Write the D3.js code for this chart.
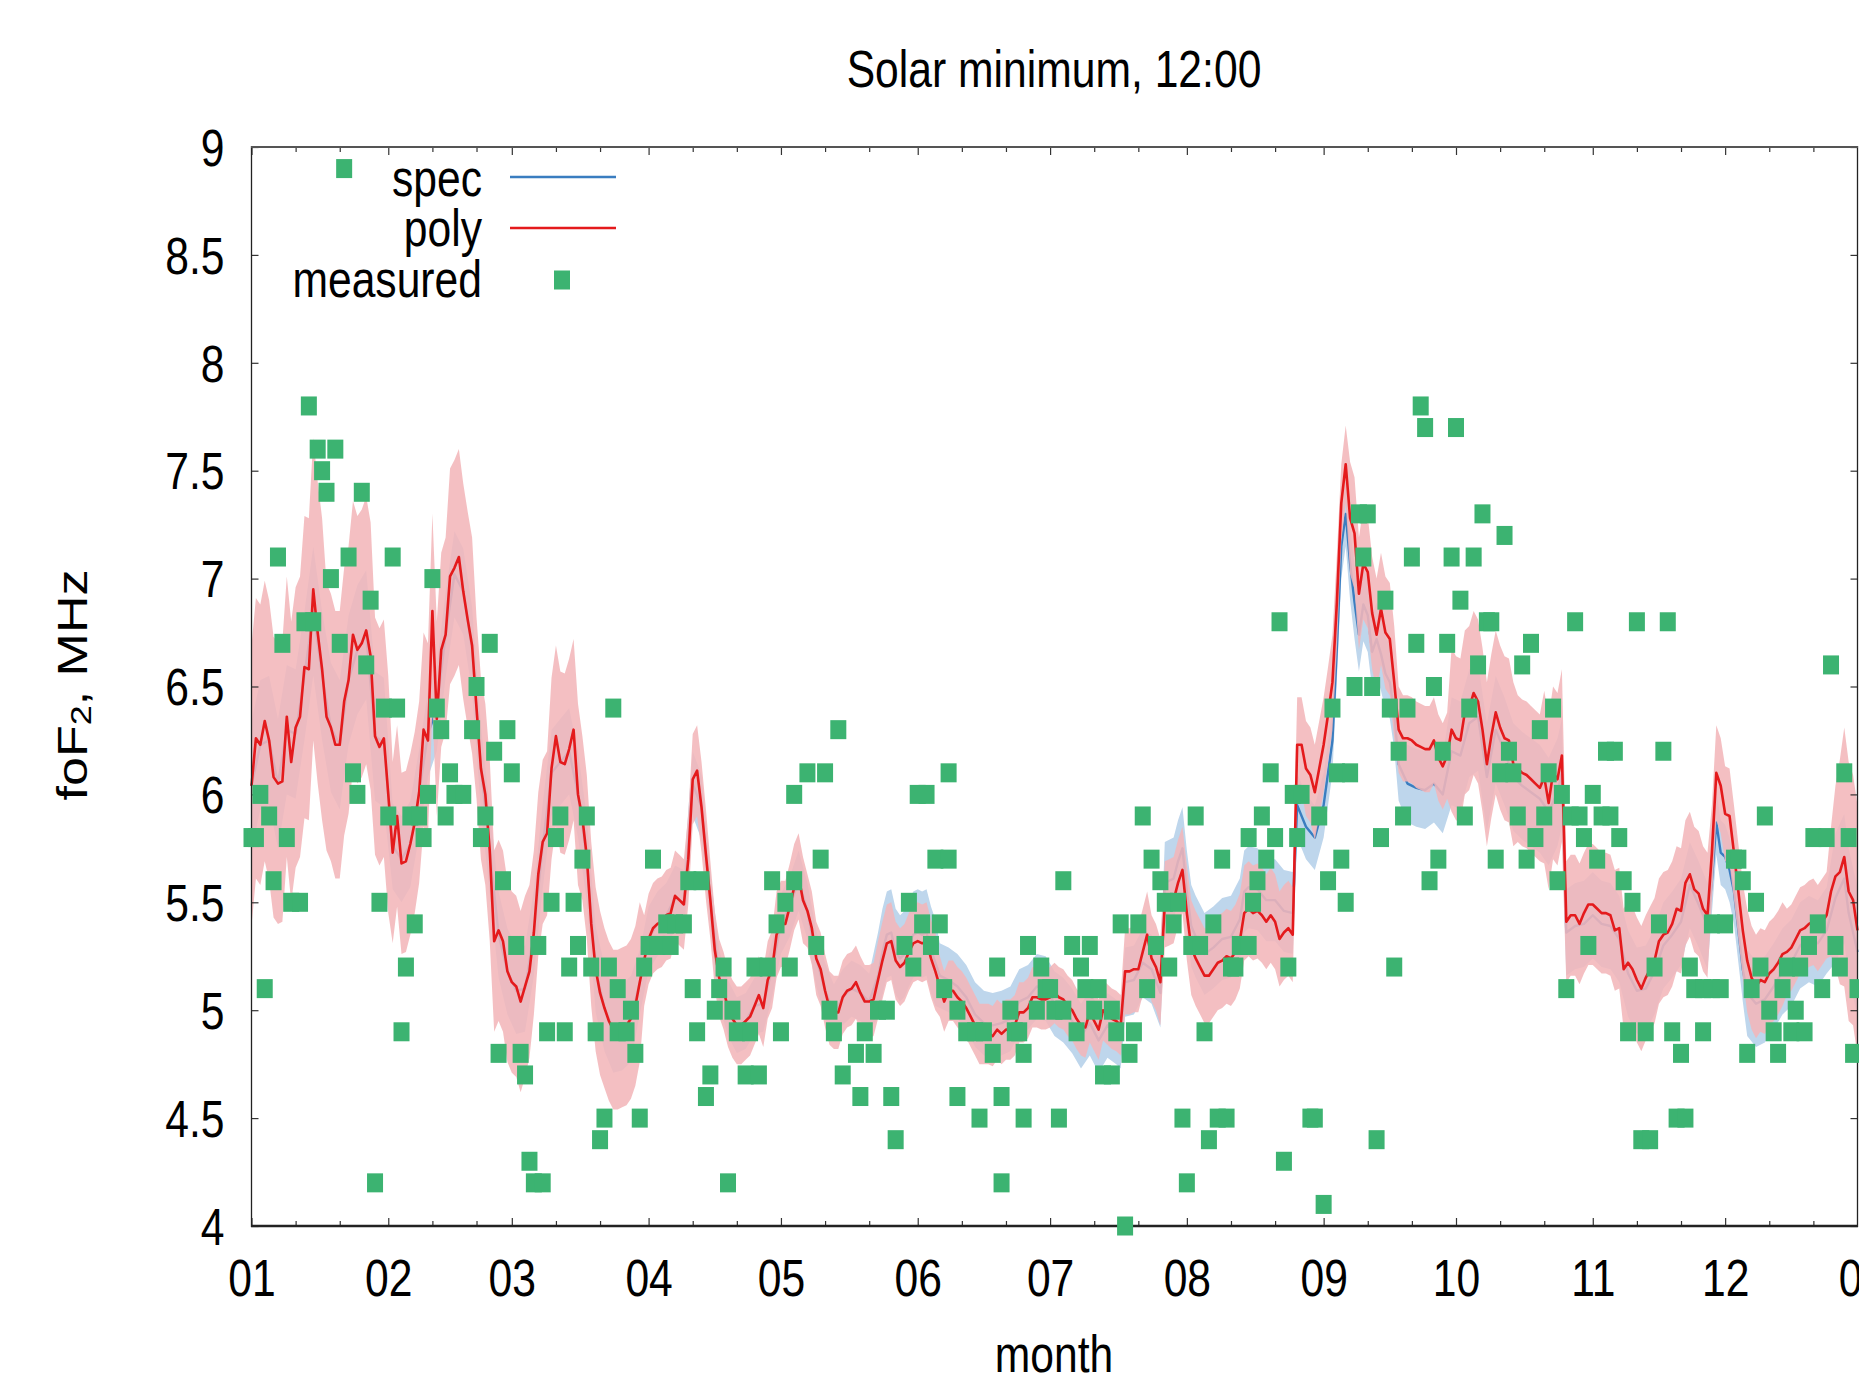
<!DOCTYPE html>
<html><head><meta charset="utf-8">
<script src="https://cdn.jsdelivr.net/npm/d3@7"></script>
<style>html,body{margin:0;padding:0;background:#fff;overflow:hidden}svg{display:block}</style>
</head><body>
<svg id="chart" width="1859" height="1377"></svg>
<script>
// ---------------- data ----------------
const titleText = "Solar minimum, 12:00";
const xAxisLabel = "month";
const yTickValues = [4, 4.5, 5, 5.5, 6, 6.5, 7, 7.5, 8, 8.5, 9];
const legendLabels = ["spec", "poly", "measured"];
const yearStart = Date.UTC(2009, 0, 1);

// measured foF2 [day of year (0 = 1 Jan), MHz]
const measured = [
[0,5.8],[1,5.8],[2,6.0],[3,5.1],[4,5.9],[5,5.6],[6,7.1],[7,6.7],[8,5.8],[9,5.5],[11,5.5],[12,6.8],[13,7.8],[14,6.8],[15,7.6],[16,7.5],[17,7.4],[18,7.0],[19,7.6],[20,6.7],[21,8.9],[22,7.1],[23,6.1],[24,6.0],[25,7.4],[26,6.6],[27,6.9],[28,4.2],[29,5.5],[30,6.4],[31,5.9],[32,7.1],[33,6.4],[34,4.9],[35,5.2],[36,5.9],[37,5.4],[38,5.9],[39,5.8],[40,6.0],[41,7.0],[42,6.4],[43,6.3],[44,5.9],[45,6.1],[46,6.0],[48,6.0],[50,6.3],[51,6.5],[52,5.8],[53,5.9],[54,6.7],[55,6.2],[56,4.8],[57,5.6],[58,6.3],[59,6.1],[60,5.3],[61,4.8],[62,4.7],[63,4.3],[64,4.2],[66,4.2],
[65,5.3],[67,4.9],[68,5.5],[69,5.8],[70,5.9],[71,4.9],[72,5.2],[73,5.5],[74,5.3],[75,5.7],[76,5.9],[77,5.2],[78,4.9],[79,4.4],[80,4.5],[81,5.2],[82,6.4],[83,5.1],[83,4.9],[85,4.9],[86,5.0],[87,4.8],[88,4.5],[89,5.2],[90,5.3],[91,5.7],[92,5.3],[94,5.4],[95,5.3],[96,5.4],[98,5.4],[99,5.6],[100,5.1],[101,4.9],[102,5.6],[103,4.6],[104,4.7],[105,5.0],[106,5.1],[107,5.2],[108,4.2],[109,5.0],[110,4.9],[112,4.7],[113,4.9],[114,5.2],[115,4.7],[117,5.2],[118,5.6],[119,5.4],[120,4.9],[121,5.5],[122,5.2],[123,5.6],[123,6.0],
[126,6.1],[128,5.3],[129,5.7],[130,6.1],[131,5.0],[132,4.9],[133,6.3],[134,4.7],[137,4.8],[138,4.6],[139,4.9],[141,4.8],[142,5.0],[144,5.0],[145,4.6],[146,4.4],[148,5.3],[149,5.5],[150,5.2],[151,6.0],[152,5.4],[153,6.0],[154,5.3],[155,5.7],[156,5.4],[157,5.1],[158,6.1],[158,5.7],[160,4.6],[160,5.0],[162,4.9],[164,4.9],[165,4.5],[166,4.9],[168,4.8],[169,5.2],[170,4.2],[170,4.6],[172,5.0],[173,4.9],[174,4.9],[175,4.5],[175,4.8],[176,5.3],[178,5.0],[179,5.2],[180,5.1],[181,5.1],[182,5.0],[183,4.5],[184,5.0],[184,5.6],
[186,5.3],[187,4.9],[188,5.2],[189,5.1],[190,5.3],[191,5.0],[192,5.1],[193,4.7],[195,4.7],[195,5.0],[196,4.9],[197,5.4],[198,4.0],[199,4.8],[200,4.9],[201,5.4],[202,5.9],[203,5.1],[204,5.7],[205,5.3],[206,5.6],[207,5.5],[208,5.2],[209,5.4],[210,5.5],[211,4.5],[212,4.2],[213,5.3],[214,5.9],[215,5.3],[216,4.9],[217,4.4],[218,5.4],[219,4.5],[220,5.7],[221,4.5],[222,5.2],[223,5.2],[224,5.3],[226,5.3],[226,5.8],[227,5.5],[228,5.6],[229,5.9],[230,5.7],[231,6.1],[232,5.8],[233,6.8],[234,4.3],[235,5.2],[236,6.0],[237,5.8],[238,6.0],[240,4.5],[241,4.5],[242,5.9],[243,4.1],[244,5.6],[245,6.4],
[246,6.1],[247,5.7],[248,5.5],[249,6.1],[250,6.5],[251,7.3],[252,7.1],[253,7.3],[254,6.5],[255,4.4],[256,5.8],[257,6.9],[258,6.4],[259,5.2],[260,6.2],[261,5.9],[262,6.4],[263,7.1],[264,6.7],[265,7.8],[266,7.7],[267,5.6],[268,6.5],[269,5.7],[270,6.2],[271,6.7],[272,7.1],[273,7.7],[274,6.9],[275,5.9],[276,6.4],[277,7.1],[278,6.6],[279,7.3],[280,6.8],[281,6.8],[282,5.7],[283,6.1],[284,7.2],[285,6.2],[286,6.1],[287,5.9],[288,6.6],[289,5.7],[290,6.7],[291,5.8],[292,6.3],[293,5.9],[294,6.1],[295,6.4],[296,5.6],[297,6.0],[298,5.1],[299,5.9],[300,6.8],[301,5.9],[302,5.8],[303,5.3],[304,6.0],[305,5.7],[306,5.9],
[307,6.2],[308,5.9],[309,6.2],[310,5.8],[311,5.6],[312,4.9],[313,5.5],[314,6.8],[315,4.4],[316,4.9],[317,4.4],[318,5.2],[319,5.4],[320,6.2],[321,6.8],[322,4.9],[323,4.5],[324,4.8],[325,4.5],[326,5.2],[327,5.1],[329,5.1],[329,4.9],[331,5.1],[331,5.4],[333,5.1],[334,5.4],[336,5.7],[337,5.7],[338,5.6],[339,4.8],[340,5.1],[341,5.5],[342,5.2],[343,5.9],[344,5.0],[345,4.9],[346,4.8],[347,5.1],[348,5.2],[349,4.9],[350,5.0],[351,5.2],[352,4.9],[353,5.3],[354,5.8],[355,5.4],[356,5.1],[357,5.8],[358,6.6],[359,5.3],[360,5.2],[361,6.1],[362,5.8],[363,4.8],[364,5.1]
];

// poly model [day, MHz, half-width of band]
const poly = [
[0,6.04,.65],[1,6.26,.65],[2,6.23,.65],[3,6.34,.65],[4,6.25,.65],[5,6.08,.65],[6,6.05,.65],[7,6.06,.65],[8,6.36,.65],[9,6.15,.65],[10,6.31,.65],[11,6.36,.65],
[12,6.59,.70],[13,6.58,.70],[14,6.95,.70],[15,6.75,.70],[16,6.58,.70],[17,6.36,.62],[18,6.31,.62],[19,6.23,.62],[20,6.23,.62],[21,6.43,.62],[22,6.53,.62],[23,6.74,.62],[24,6.67,.62],[25,6.70,.62],[26,6.76,.62],[27,6.64,.62],
[28,6.27,.55],[29,6.22,.55],[30,6.26,.55],[31,6.00,.55],[32,5.73,.42],[33,5.90,.42],[34,5.68,.42],[35,5.69,.42],[36,5.77,.42],[37,5.87,.42],[38,6.01,.42],
[39,6.30,.45],[40,6.25,.45],[41,6.85,.45],[42,6.35,.45],[43,6.67,.45],[44,6.74,.45],[45,7.01,.50],[46,7.05,.50],[47,7.10,.50],[48,6.94,.50],[49,6.81,.50],[50,6.69,.50],
[51,6.40,.42],[52,6.12,.42],[53,6.00,.42],[54,5.74,.42],[55,5.32,.42],[56,5.37,.42],[57,5.32,.42],[58,5.18,.42],[59,5.13,.42],[60,5.11,.42],[61,5.04,.42],[62,5.11,.42],[63,5.18,.40],
[64,5.36,.38],[65,5.63,.38],[66,5.78,.38],[67,5.82,.38],[68,6.12,.42],[69,6.27,.42],[70,6.15,.42],[71,6.14,.42],[72,6.21,.42],[73,6.30,.42],[74,6.00,.42],
[75,5.89,.38],[76,5.71,.38],[77,5.40,.38],[78,5.19,.38],[79,5.08,.38],[80,5.01,.37],[81,4.95,.37],[82,4.91,.37],[83,4.91,.37],[84,4.92,.37],[85,4.93,.37],[86,4.96,.37],[87,5.02,.37],[88,5.13,.37],
[89,5.23,.21],[90,5.33,.21],[91,5.38,.21],[92,5.40,.21],[93,5.41,.21],[94,5.44,.21],[95,5.45,.21],[96,5.53,.21],[97,5.51,.21],[98,5.49,.21],[99,5.70,.21],[100,6.07,.21],[101,6.11,.21],[102,5.94,.21],[103,5.72,.21],
[104,5.51,.18],[105,5.28,.18],[106,5.15,.18],[107,5.09,.18],[108,5.01,.18],[109,4.96,.18],[110,4.93,.18],[111,4.93,.18],[112,4.95,.18],[113,4.97,.18],[114,5.02,.18],[115,5.07,.18],[116,5.01,.18],[117,5.14,.18],[118,5.19,.18],
[119,5.35,.20],[120,5.40,.20],[121,5.40,.20],[122,5.48,.20],[123,5.57,.20],[124,5.62,.20],[125,5.51,.20],
[126,5.46,.17],[127,5.38,.17],[128,5.24,.17],[129,5.19,.17],[130,5.09,.17],[131,5.01,.17],[132,4.99,.17],[133,4.99,.17],[134,5.06,.17],[135,5.09,.17],[136,5.10,.17],[137,5.13,.17],[138,5.08,.17],[139,5.04,.17],[140,5.04,.17],[141,5.05,.17],
[142,5.14,.18],[143,5.23,.18],[144,5.31,.18],[145,5.32,.18],[146,5.23,.18],[147,5.20,.18],[148,5.22,.18],[149,5.27,.18],[150,5.31,.18],[151,5.32,.18],[152,5.31,.18],[153,5.32,.18],[154,5.24,.18],[155,5.18,.18],
[156,5.11,.14],[157,5.04,.14],[158,5.09,.14],[159,5.09,.14],[160,5.06,.14],[161,5.04,.14],[162,5.01,.14],[163,4.97,.14],[164,4.93,.14],[165,4.89,.14],[166,4.89,.14],[167,4.89,.14],[168,4.88,.14],[169,4.91,.14],[170,4.89,.14],[171,4.91,.14],[172,4.91,.14],[173,4.93,.14],[174,4.99,.14],[175,4.99,.14],[176,5.01,.14],[177,5.06,.14],[178,5.06,.14],[179,5.05,.14],[180,5.05,.14],[181,5.06,.14],
[182,5.08,.14],[183,5.06,.14],[184,5.05,.14],[185,5.02,.14],[186,5.00,.14],[187,4.96,.14],[188,4.93,.14],[189,4.92,.14],[190,4.99,.14],[191,4.95,.14],[192,4.91,.14],[193,5.00,.14],[194,4.98,.14],[195,4.96,.14],[196,4.95,.14],[197,4.93,.14],
[198,5.18,.20],[199,5.18,.20],[200,5.19,.20],[201,5.19,.20],[202,5.27,.20],[203,5.35,.20],[204,5.24,.20],[205,5.20,.20],[206,5.13,.20],[207,5.49,.20],[208,5.50,.20],[209,5.51,.20],[210,5.59,.20],[211,5.65,.20],
[212,5.45,.22],[213,5.29,.22],[214,5.24,.22],[215,5.20,.22],[216,5.16,.22],[217,5.16,.22],[218,5.19,.22],[219,5.22,.22],[220,5.23,.22],[221,5.25,.22],[222,5.24,.22],[223,5.27,.22],[224,5.32,.22],[225,5.45,.22],[226,5.47,.22],[227,5.45,.22],[228,5.46,.22],[229,5.44,.22],[230,5.41,.22],[231,5.44,.22],[232,5.41,.22],[233,5.33,.22],[234,5.36,.22],[235,5.38,.22],[236,5.35,.22],
[237,6.23,.22],[238,6.23,.22],[239,6.12,.22],[240,6.09,.22],[241,6.01,.22],[242,6.12,.22],[243,6.23,.22],[244,6.37,.22],[245,6.52,.22],[246,6.89,.22],[247,7.35,.18],[248,7.53,.18],
[249,7.28,.26],[250,7.21,.26],[251,6.93,.26],[252,7.07,.26],[253,7.03,.26],[254,6.84,.26],[255,6.74,.26],[256,6.86,.26],[257,6.75,.26],[258,6.72,.26],[259,6.52,.26],
[260,6.30,.20],[261,6.26,.20],[262,6.26,.20],[263,6.25,.20],[264,6.23,.20],[265,6.22,.20],[266,6.21,.20],[267,6.21,.20],[268,6.25,.20],[269,6.17,.20],[270,6.13,.20],[271,6.18,.20],
[272,6.30,.38],[273,6.26,.38],[274,6.25,.38],[275,6.38,.38],[276,6.40,.38],[277,6.47,.38],[278,6.43,.38],[279,6.30,.38],[280,6.14,.38],[281,6.27,.38],[282,6.38,.38],[283,6.31,.38],[284,6.26,.38],[285,6.25,.38],[286,6.14,.38],
[287,6.12,.34],[288,6.10,.34],[289,6.09,.34],[290,6.07,.34],[291,6.05,.34],[292,6.03,.34],[293,6.08,.40],[294,5.96,.40],[295,6.10,.40],[296,6.07,.40],[297,6.18,.40],
[298,5.41,.28],[299,5.44,.28],[300,5.44,.28],[301,5.40,.28],[302,5.45,.28],[303,5.49,.28],[304,5.49,.28],[305,5.47,.28],[306,5.45,.28],[307,5.45,.28],[308,5.44,.28],[309,5.37,.28],[310,5.38,.28],[311,5.19,.28],
[312,5.22,.29],[313,5.19,.29],[314,5.14,.29],[315,5.10,.29],[316,5.15,.29],[317,5.19,.29],[318,5.23,.29],[319,5.32,.29],[320,5.35,.29],[321,5.36,.29],[322,5.40,.29],[323,5.47,.29],[324,5.46,.29],[325,5.59,.29],[326,5.63,.29],[327,5.56,.29],[328,5.54,.29],[329,5.47,.29],[330,5.44,.29],
[331,5.73,.22],[332,6.10,.22],[333,6.04,.22],[334,5.91,.22],[335,5.90,.22],[336,5.73,.22],[337,5.55,.22],[338,5.37,.22],
[339,5.23,.24],[340,5.15,.24],[341,5.11,.24],[342,5.14,.24],[343,5.13,.24],[344,5.17,.24],[345,5.19,.24],[346,5.22,.24],[347,5.26,.24],
[348,5.27,.20],[349,5.29,.20],[350,5.33,.20],[351,5.37,.20],[352,5.38,.20],[353,5.40,.20],[354,5.41,.20],[355,5.38,.20],[356,5.41,.20],[357,5.44,.20],
[358,5.55,.30],[359,5.62,.42],[360,5.64,.52],[361,5.71,.60],[362,5.55,.60],[363,5.51,.58],[364,5.37,.58]
];

// spec model [day, MHz, half-width of band]
const spec = [
[0,6.04,.3],[2,6.23,.3],[4,6.25,.3],[6,6.05,.3],[8,6.30,.3],[10,6.28,.3],[12,6.55,.3],[14,6.85,.3],[16,6.55,.3],[18,6.31,.3],[20,6.23,.3],[22,6.53,.3],[24,6.67,.3],[26,6.74,.3],[28,6.27,.3],[30,6.24,.3],
[32,5.76,.2],[34,5.70,.2],[36,5.77,.2],[38,6.01,.2],[40,6.28,.2],[42,6.40,.2],[44,6.74,.2],[46,7.02,.2],[48,6.94,.2],[50,6.67,.2],[52,6.12,.2],[54,5.74,.2],[56,5.35,.2],[58,5.18,.2],[60,5.09,.2],[62,5.10,.2],
[64,5.36,.2],[66,5.76,.2],[68,6.10,.2],[70,6.15,.2],[72,6.20,.2],[74,6.00,.2],[76,5.70,.2],[78,5.19,.2],[80,5.01,.2],[82,4.91,.2],[84,4.92,.2],[86,4.96,.2],
[88,5.13,.15],[90,5.33,.15],[92,5.40,.15],[94,5.44,.15],[96,5.52,.15],[98,5.50,.15],[100,6.05,.15],[102,5.94,.15],
[104,5.51,.13],[106,5.15,.13],[108,5.01,.13],[110,4.93,.13],[112,4.95,.13],[114,5.02,.13],[116,5.03,.13],[118,5.19,.13],[120,5.40,.14],[122,5.48,.14],[124,5.60,.14],
[126,5.46,.13],[128,5.24,.13],[130,5.09,.13],[132,4.99,.13],[134,5.06,.13],[136,5.10,.13],[138,5.08,.13],[140,5.04,.13],
[142,5.16,.2],[143,5.27,.2],[144,5.35,.2],[145,5.36,.2],[146,5.27,.2],[147,5.24,.2],[148,5.26,.2],[149,5.31,.2],[150,5.35,.2],[151,5.36,.2],[152,5.35,.2],[153,5.36,.2],[154,5.28,.2],[155,5.22,.2],
[156,5.16,.15],[158,5.14,.15],[160,5.11,.15],[162,5.06,.15],[164,4.98,.15],[166,4.94,.15],[168,4.93,.15],[170,4.94,.15],[172,4.96,.15],[174,5.04,.15],[176,5.06,.15],[178,5.11,.15],[180,5.10,.15],
[182,5.03,.15],[184,5.00,.15],[186,4.95,.15],[188,4.88,.15],[190,4.94,.15],[192,4.86,.15],[194,4.93,.15],[196,4.90,.15],[197,4.88,.15],
[198,5.13,.16],[200,5.14,.16],[202,5.22,.16],[204,5.19,.16],[206,5.08,.16],
[207,5.59,.19],[208,5.60,.19],[209,5.61,.19],[210,5.69,.19],[211,5.75,.19],[212,5.55,.19],[213,5.39,.19],[214,5.34,.19],[216,5.26,.19],[218,5.29,.19],[220,5.33,.19],[222,5.34,.19],[224,5.42,.19],[225,5.55,.19],[226,5.57,.19],[228,5.56,.19],[230,5.51,.19],[232,5.51,.19],[234,5.46,.19],[236,5.45,.19],
[237,5.95,.15],[239,5.85,.15],[241,5.80,.15],[243,5.95,.15],[245,6.25,.15],[246,6.68,.15],[247,7.15,.15],[248,7.30,.15],
[249,7.07,.17],[250,6.89,.17],[251,6.74,.17],[252,6.88,.17],[253,6.83,.17],[254,6.66,.17],[255,6.72,.17],[256,6.65,.17],[257,6.56,.17],[258,6.52,.17],[259,6.38,.17],[260,6.14,.17],
[262,6.05,.18],[264,6.03,.18],[266,6.02,.18],[268,6.05,.18],[270,6.00,.18],
[272,6.20,.25],[274,6.18,.25],[276,6.33,.25],[278,6.36,.25],[280,6.08,.25],[282,6.30,.25],[284,6.20,.25],[286,6.08,.25],[288,6.04,.25],[290,6.01,.25],[292,5.98,.25],[294,5.92,.25],[296,6.01,.25],[297,6.10,.25],
[298,5.36,.2],[300,5.39,.2],[302,5.40,.2],[304,5.44,.2],[306,5.40,.2],[308,5.39,.2],[310,5.33,.2],[312,5.17,.2],[314,5.09,.2],[316,5.10,.2],[318,5.18,.2],[320,5.30,.2],[322,5.35,.2],[324,5.41,.2],[326,5.58,.2],[328,5.49,.2],[330,5.39,.2],
[331,5.60,.15],[332,5.87,.15],[333,5.73,.15],[334,5.71,.15],[335,5.65,.15],[336,5.55,.15],[337,5.37,.15],[338,5.19,.15],
[339,5.08,.2],[341,5.03,.2],[343,5.05,.2],[345,5.11,.2],[347,5.18,.2],[349,5.22,.2],[351,5.30,.2],[353,5.33,.2],[355,5.31,.2],[357,5.37,.2],
[359,5.52,.3],[361,5.61,.3],[362,5.45,.3],[364,5.27,.3]
];

// ---------------- drawing ----------------
const FONT = "'Liberation Sans', Arial, Helvetica, sans-serif";
const SQ = 0.82;                 // horizontal squeeze of the original raster
const FS = 52;
const C = { green: "#3cb371", red: "#e41a1c", pink: "#f3b6ba", blue: "#3a7dc0", lblue: "#bed6ec", axis: "#222" };

const svg = d3.select("#chart");
svg.append("rect").attr("width", 1859).attr("height", 1377).attr("fill", "#fff");

const toDate = d => new Date(yearStart + d * 864e5);
const x = d3.scaleUtc().domain([toDate(0), toDate(364)]).range([251.5, 1857.5]);
const y = d3.scaleLinear().domain([4, 9]).range([1226, 147]);

function label(g, tx, ty, str, anchor) {
  return g.append("text").attr("transform", `translate(${tx},${ty}) scale(${SQ},1)`)
    .attr("text-anchor", anchor).attr("font-family", FONT).attr("font-size", FS)
    .attr("fill", "#000").text(str);
}

// bands & lines
const band = d3.area().x(d => x(toDate(d[0]))).y0(d => y(d[1] - d[2])).y1(d => y(d[1] + d[2]));
const line = d3.line().x(d => x(toDate(d[0]))).y(d => y(d[1]));
svg.append("path").datum(spec).attr("d", band).attr("fill", C.lblue);
svg.append("path").datum(spec).attr("d", line).attr("fill", "none").attr("stroke", C.blue).attr("stroke-width", 2.4).attr("stroke-linejoin", "round");
svg.append("path").datum(poly).attr("d", band).attr("fill", C.pink).attr("fill-opacity", 0.88);
svg.append("path").datum(poly).attr("d", line).attr("fill", "none").attr("stroke", C.red).attr("stroke-width", 2.6).attr("stroke-linejoin", "round");

// axes
const months = d3.utcMonth.range(toDate(0), toDate(366));
const minor = [];
for (let m = 0; m < 12; m++) { minor.push(new Date(Date.UTC(2009, m, 11)), new Date(Date.UTC(2009, m, 21))); }

function styleAxis(g) {
  g.select(".domain").remove();
  g.selectAll("line").attr("stroke", "#333").attr("stroke-width", 1.2);
  g.attr("font-family", FONT).attr("font-size", FS);
}
const gB = svg.append("g").attr("transform", `translate(0,${y(4)})`)
  .call(d3.axisBottom(x).tickValues(months).tickFormat(d3.utcFormat("%m")).tickSizeInner(-8).tickSizeOuter(0));
styleAxis(gB);
gB.selectAll("text").attr("y", 70).attr("dy", 0).attr("fill", "#000").attr("transform", `scale(${SQ},1)`);
const gBm = svg.append("g").attr("transform", `translate(0,${y(4)})`)
  .call(d3.axisBottom(x).tickValues(minor).tickFormat("").tickSizeInner(-5).tickSizeOuter(0));
styleAxis(gBm);
const gT = svg.append("g").attr("transform", `translate(0,${y(9)})`)
  .call(d3.axisTop(x).tickValues(months.slice(0, 12)).tickFormat("").tickSizeInner(-8).tickSizeOuter(0));
styleAxis(gT);
const gTm = svg.append("g").attr("transform", `translate(0,${y(9)})`)
  .call(d3.axisTop(x).tickValues(minor).tickFormat("").tickSizeInner(-5).tickSizeOuter(0));
styleAxis(gTm);
const gL = svg.append("g").attr("transform", `translate(251.5,0)`)
  .call(d3.axisLeft(y).tickValues(yTickValues).tickFormat(d3.format("~g")).tickSizeInner(-7).tickSizeOuter(0));
styleAxis(gL);
gL.selectAll("text").attr("x", -27 / SQ).attr("dy", "0.35em").attr("fill", "#000").attr("transform", `scale(${SQ},1)`);
const gR = svg.append("g").attr("transform", `translate(1857.5,0)`)
  .call(d3.axisRight(y).tickValues(yTickValues).tickFormat("").tickSizeInner(-7).tickSizeOuter(0));
styleAxis(gR);

// frame
svg.append("line").attr("x1", 251.5).attr("x2", 251.5).attr("y1", 146).attr("y2", 1227).attr("stroke", C.axis).attr("stroke-width", 1.3);
svg.append("line").attr("x1", 1857.5).attr("x2", 1857.5).attr("y1", 146).attr("y2", 1227).attr("stroke", C.axis).attr("stroke-width", 1.3);
svg.append("line").attr("x1", 251).attr("x2", 1858).attr("y1", 147).attr("y2", 147).attr("stroke", "#555").attr("stroke-width", 2);
svg.append("line").attr("x1", 251).attr("x2", 1858).attr("y1", 1226).attr("y2", 1226).attr("stroke", C.axis).attr("stroke-width", 2.6);

// measured points
const MW = 16, MH = 19;
svg.append("g").selectAll("rect").data(measured).join("rect")
  .attr("x", d => x(toDate(d[0])) - MW / 2).attr("y", d => y(d[1]) - MH / 2)
  .attr("width", MW).attr("height", MH).attr("fill", C.green);

// titles
label(svg, 1054, 87, titleText, "middle");
label(svg, 1054, 1372, xAxisLabel, "middle");
const yl = svg.append("text").attr("transform", `translate(87,685) scale(${SQ},1) rotate(-90)`)
  .attr("text-anchor", "middle").attr("font-family", FONT).attr("font-size", FS).attr("fill", "#000");
yl.append("tspan").text("foF");
yl.append("tspan").attr("font-size", 36).attr("dy", 5).text("2");
yl.append("tspan").attr("dy", -5).text(", MHz");

// legend
const legendRows = [177, 228, 280];
label(svg, 482, 196, legendLabels[0], "end");
label(svg, 482, 246, legendLabels[1], "end");
label(svg, 482, 297, legendLabels[2], "end");
svg.append("line").attr("x1", 510).attr("x2", 616).attr("y1", legendRows[0]).attr("y2", legendRows[0]).attr("stroke", C.blue).attr("stroke-width", 2.6);
svg.append("line").attr("x1", 510).attr("x2", 616).attr("y1", legendRows[1]).attr("y2", legendRows[1]).attr("stroke", C.red).attr("stroke-width", 2.6);
svg.append("rect").attr("x", 562 - MW / 2).attr("y", legendRows[2] - MH / 2).attr("width", MW).attr("height", MH).attr("fill", C.green);
</script>
</body></html>
